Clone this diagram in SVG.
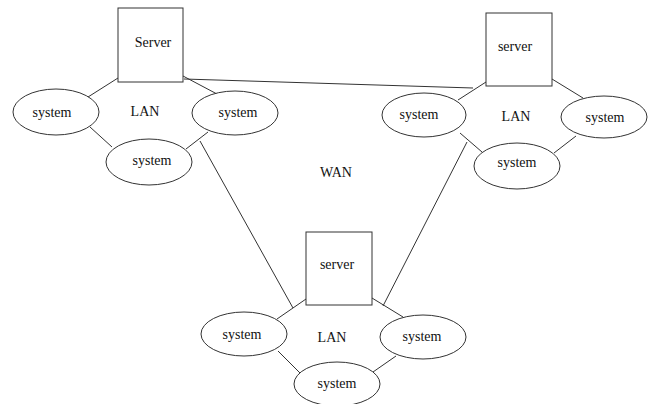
<svg xmlns="http://www.w3.org/2000/svg" width="651" height="404" viewBox="0 0 651 404">
  <style>
    .box { fill: #fff; stroke: #333; stroke-width: 1; }
    .node { fill: #fff; stroke: #333; stroke-width: 1; }
    .link { stroke: #333; stroke-width: 1; fill: none; }
    text { font-family: "Liberation Serif", "Times New Roman", serif; font-size: 14px; fill: #111; text-anchor: middle; }
  </style>
  <rect width="651" height="404" fill="#fff"/>

  <g id="connectors">
    <!-- top-left LAN -->
    <line class="link" x1="118" y1="78" x2="88" y2="97"/>
    <line class="link" x1="183" y1="76" x2="217" y2="94"/>
    <line class="link" x1="90" y1="127" x2="112" y2="147"/>
    <line class="link" x1="186" y1="149" x2="208" y2="132"/>
    <!-- top-right LAN -->
    <line class="link" x1="486" y1="82" x2="458" y2="100"/>
    <line class="link" x1="552" y1="79" x2="583" y2="98"/>
    <line class="link" x1="460" y1="133" x2="482" y2="152"/>
    <line class="link" x1="554" y1="153" x2="576" y2="136"/>
    <!-- bottom LAN -->
    <line class="link" x1="306" y1="299" x2="277" y2="319"/>
    <line class="link" x1="372" y1="298" x2="403" y2="317"/>
    <line class="link" x1="278" y1="351" x2="300" y2="373"/>
    <line class="link" x1="396" y1="356" x2="373" y2="372"/>
    <!-- WAN links -->
    <line class="link" x1="184" y1="79" x2="473" y2="88"/>
    <line class="link" x1="200" y1="141" x2="293" y2="308"/>
    <line class="link" x1="467" y1="142" x2="383" y2="306"/>
  </g>

  <text x="336" y="177">WAN</text>

  <!-- top-left LAN -->
  <g id="server-tl">
    <rect class="box" x="118" y="8" width="65" height="74"/>
    <text x="153" y="47">Server</text>
  </g>
  <g id="system-tl-left">
    <ellipse class="node" cx="56" cy="112" rx="43" ry="23"/>
    <text x="52" y="117">system</text>
  </g>
  <g id="system-tl-right">
    <ellipse class="node" cx="235" cy="113" rx="43" ry="22"/>
    <text x="238" y="117">system</text>
  </g>
  <g id="system-tl-bottom">
    <ellipse class="node" cx="149" cy="162" rx="43" ry="23"/>
    <text x="152" y="165">system</text>
  </g>
  <text x="145" y="116">LAN</text>

  <!-- top-right LAN -->
  <g id="server-tr">
    <rect class="box" x="486" y="13" width="66" height="73"/>
    <text x="515" y="51">server</text>
  </g>
  <g id="system-tr-left">
    <ellipse class="node" cx="424" cy="115" rx="42" ry="22"/>
    <text x="419" y="119">system</text>
  </g>
  <g id="system-tr-right">
    <ellipse class="node" cx="604" cy="117" rx="43" ry="21"/>
    <text x="605" y="122">system</text>
  </g>
  <g id="system-tr-bottom">
    <ellipse class="node" cx="517" cy="166" rx="43" ry="23"/>
    <text x="517" y="167">system</text>
  </g>
  <text x="516" y="121">LAN</text>

  <!-- bottom LAN -->
  <g id="server-b">
    <rect class="box" x="306" y="232" width="66" height="73"/>
    <text x="337" y="269">server</text>
  </g>
  <g id="system-b-left">
    <ellipse class="node" cx="244" cy="334" rx="43" ry="22"/>
    <text x="242" y="339">system</text>
  </g>
  <g id="system-b-right">
    <ellipse class="node" cx="423" cy="337" rx="43" ry="22"/>
    <text x="422" y="341">system</text>
  </g>
  <g id="system-b-bottom">
    <ellipse class="node" cx="337" cy="384" rx="43" ry="22"/>
    <text x="337" y="388">system</text>
  </g>
  <text x="332" y="342">LAN</text>
</svg>
